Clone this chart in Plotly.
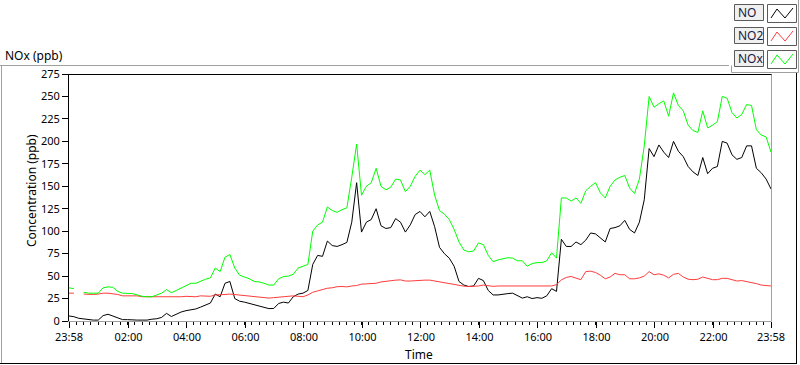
import plotly.graph_objects as go
import pandas as pd

# ---------------- data (10-minute samples, 23:58 -> 23:58 next day) ----------------
start_time = "2024-01-01 23:58"
n_points = 145

no_ppb = [
    5.6, 4.8, 3, 2.2, 1, 1, 1, 6, 7.5, 5.6, 3, 1.5, 1.5, 1, 1, 1, 1, 2, 2.5, 4,
    8.5, 5, 7.8, 10, 11.5, 12.3, 13.4, 15.5, 17.5, 20,
    30, 27, 42, 44, 25, 22, 21, 19.5, 18.5, 17, 15, 13.8, 14, 19.5, 21, 20, 27, 30,
    31, 34, 63, 73, 72, 89, 84, 83, 85, 87.5,
    110, 154, 99, 110, 113, 125, 106, 103, 104, 114, 110, 99, 107, 118.5, 122, 116,
    122, 105, 82, 75, 70, 61, 44, 40, 38.4, 39, 47.5, 45, 34,
    29, 29, 30, 30.5, 31, 28, 25.5, 27, 25, 26, 25.3, 28, 36, 33, 91, 83, 83, 88,
    85, 90, 98, 97, 92, 88, 103, 104, 106, 112, 102,
    98, 110, 135, 192, 183, 196, 188, 182, 200, 189, 183, 172, 166, 162, 182, 164,
    170, 172, 200, 198, 185, 180, 182, 195, 195, 170, 165, 158, 147,
]

no2_ppb = [
    31, 31, None, 30, 29.5, 29.5, 30, 31, 31, 30.5, 29.5, 28, 28, 28, 28, 27, 27,
    26.5, 26.5, 26.5, 26.5, 26.5, 27, 27, 27.5, 27.5, 27, 28, 28, 27.5,
    29, 29, 29.5, 30, 29.5, 29, 28, 27.5, 27, 26.5, 26, 25.5, 26, 26.5, 27, 28, 28,
    27.5, 27, 29, 32, 33.5, 35, 36.5, 37, 38.2, 38.4, 38,
    39, 39.5, 41, 41.5, 41.8, 42, 43.5, 44.3, 45, 45.5, 45.8, 44.5, 44.5, 45, 45.5,
    45.5, 45.5, 44.5, 43.5, 42.5, 42, 41, 40, 38.8, 38.4, 38.5, 39, 40, 39.5,
    38.6, 39, 39, 39, 39, 38.8, 38.6, 38.5, 38.4, 38.4, 38.4, 38.4, 39, 40.5, 45.8,
    48.5, 49.6, 47.7, 46, 55, 55.5, 54, 51, 47, 49, 53, 51.5, 51.5, 47,
    47, 48, 50, 55, 51.5, 52.5, 51, 48, 52, 53, 49, 46.5, 46, 46.5, 49, 47.5, 46,
    46, 47.5, 47.5, 45.8, 44.5, 45, 44, 43, 41.6, 40, 39.2, 39,
]

nox_ppb = [
    37, 36, None, 32, 31, 31, 31, 37, 38, 37.5, 33, 31, 31, 30.5, 29, 27.5, 27, 27,
    29, 31, 35, 31.5, 34, 36.5, 39.5, 42, 42, 44.5, 46.5, 48,
    59, 55, 71, 74, 59, 51, 49, 47, 44, 43.5, 42, 40, 40, 47, 49.5, 50, 52, 59, 61,
    63, 100, 107, 110, 127, 123, 121, 124, 126,
    160, 197, 140, 150, 154, 170, 150, 146, 149, 158, 157, 144, 150, 161, 168, 163,
    168, 140, 123, 119, 113, 102, 88, 79, 77, 78, 87, 85, 73,
    66, 68, 69, 70.5, 70, 67, 67, 61, 64, 65, 65, 67, 76, 70, 137, 137, 133.5, 137,
    131, 145, 150, 154, 142.7, 137, 150, 157, 160, 162, 148,
    142, 158, 195, 250, 238, 242, 245, 228, 254, 240, 234, 218, 212, 210, 234, 215,
    218, 222, 250, 248, 232, 226, 230, 241, 240, 213, 207, 205, 188,
]

series_names = ["NO", "NO2", "NOx"]
series_colors = ["#000000", "#ff3c3c", "#00ff00"]

x_tick_labels = ["23:58", "02:00", "04:00", "06:00", "08:00", "10:00", "12:00",
                 "14:00", "16:00", "18:00", "20:00", "22:00", "23:58"]
y_tick_values = [0, 25, 50, 75, 100, 125, 150, 175, 200, 225, 250, 275]

# ---------------- figure ----------------
times = pd.date_range(start_time, periods=n_points, freq="10min")
t_start, t_end = times[0], times[-1]

tick_vals = [t_start] + [pd.Timestamp("2024-01-02 " + s) for s in x_tick_labels[1:-1]] + [t_end]

W, H = 800, 365
L, R, T, B = 69, 771, 74, 321  # plot area in pixels


def px(xp):
    return (xp - L) / (R - L)


def py(yp):
    return (B - yp) / (B - T)


FONT = "Noto Sans"

fig = go.Figure()
for name, vals, col in zip(series_names, [no_ppb, no2_ppb, nox_ppb], series_colors):
    fig.add_trace(go.Scatter(x=times, y=vals, name=name, mode="lines",
                             line=dict(color=col, width=1), connectgaps=False,
                             showlegend=False))

fig.update_layout(
    width=W, height=H,
    margin=dict(l=L, r=W - R, t=T, b=H - B, pad=0),
    paper_bgcolor="white", plot_bgcolor="white",
    font=dict(family=FONT, size=11, color="#000000"),
    xaxis=dict(
        type="date", range=[t_start, t_end], tickmode="array",
        tickvals=tick_vals, ticktext=x_tick_labels,
        showgrid=False, zeroline=False,
        showline=True, linecolor="#a0a0a0", linewidth=1,
        ticks="outside", ticklen=6, tickwidth=1, tickcolor="#000000",
        tickfont=dict(family=FONT, size=11, color="#000000"),
        minor=dict(tickmode="linear", tick0="2024-01-01 23:58",
                   dtick=15 * 60 * 1000, ticks="outside", ticklen=3,
                   tickcolor="#000000", tickwidth=1, showgrid=False),
    ),
    yaxis=dict(
        range=[0, 275], tickmode="array", tickvals=y_tick_values,
        showgrid=False, zeroline=False,
        showline=True, linecolor="#000000", linewidth=1,
        ticks="outside", ticklen=6, tickwidth=1, tickcolor="#000000",
        tickfont=dict(family=FONT, size=11, color="#000000"),
    ),
)

shapes = []


def line(x0, y0, x1, y1, color, width=1):
    shapes.append(dict(type="line", xref="paper", yref="paper",
                       x0=px(x0), y0=py(y0), x1=px(x1), y1=py(y1),
                       line=dict(color=color, width=width), layer="above"))


def rect(x0, y0, x1, y1, fill, border):
    shapes.append(dict(type="rect", xref="paper", yref="paper",
                       x0=px(x0), y0=py(y0), x1=px(x1), y1=py(y1),
                       fillcolor=fill, line=dict(color=border, width=1), layer="above"))


# plot frame: top black, right gray
line(68.5, 74.5, 772, 74.5, "#000000")
line(771.5, 74.5, 771.5, 321.5, "#a0a0a0")

# outer panel border
line(0, 65.5, 729, 65.5, "#a0a0a0")
line(1.5, 65.5, 1.5, 363.5, "#a0a0a0")
line(0, 363.5, 797, 363.5, "#000000")
line(796.5, 72, 796.5, 363.5, "#000000")
line(731.5, 65.5, 731.5, 72.5, "#a0a0a0")
line(731.5, 72.5, 798.5, 72.5, "#a0a0a0")
line(798.5, 0, 798.5, 72.5, "#a0a0a0")

annotations = []
row_tops = [4, 27, 50]
for name, col, top in zip(series_names, series_colors, row_tops):
    rect(734.5, top + 0.5, 763.5, top + 16.5, "#f0f0f0", "#5a5a5a")
    rect(767.5, top + 0.5, 796.5, top + 18.5, "#ffffff", "#5a5a5a")
    zig = [(771, top + 14), (777, top + 5), (785, top + 14), (793, top + 4)]
    path = "M " + " L ".join(f"{px(a)},{py(b)}" for a, b in zig)
    shapes.append(dict(type="path", xref="paper", yref="paper", path=path,
                       line=dict(color=col, width=1), layer="above"))
    annotations.append(dict(text=name, xref="paper", yref="paper",
                            x=px(736), y=py(top + 8.5), xanchor="left", yanchor="middle",
                            showarrow=False, font=dict(family=FONT, size=12, color="#1a1a40")))

annotations.append(dict(text="NOx (ppb)", xref="paper", yref="paper",
                        x=px(3), y=py(55.5), xanchor="left", yanchor="middle",
                        showarrow=False, font=dict(family=FONT, size=12, color="#000000")))
annotations.append(dict(text="Concentration (ppb)", xref="paper", yref="paper",
                        x=px(31), y=py(191), xanchor="center", yanchor="middle",
                        textangle=-90, showarrow=False,
                        font=dict(family=FONT, size=12, color="#000000")))
annotations.append(dict(text="Time", xref="paper", yref="paper",
                        x=px(403), y=py(354), xanchor="left", yanchor="middle",
                        showarrow=False, font=dict(family=FONT, size=12, color="#000000")))

fig.update_layout(shapes=shapes, annotations=annotations)

fig.write_html("out.html", config={"displayModeBar": False},
               post_script="document.body.style.margin='0';document.body.style.overflow='hidden';")
